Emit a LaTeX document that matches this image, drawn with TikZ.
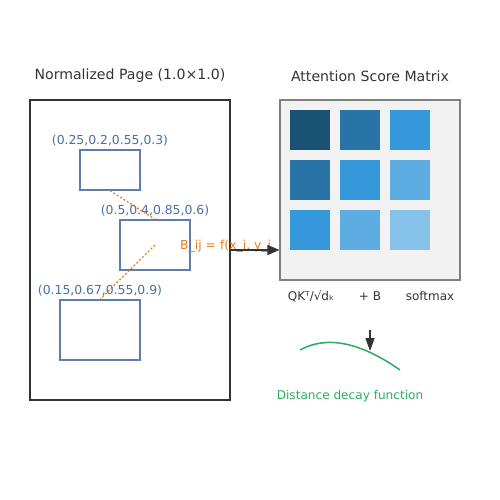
\documentclass[tikz,border=0pt]{standalone}
\usepackage{fontspec}
\setmainfont{DejaVu Sans}
\usetikzlibrary{arrows.meta}
\definecolor{boxblue}{HTML}{4A6FA5}
\definecolor{dorange}{HTML}{E67E22}
\definecolor{dgreen}{HTML}{27AE60}
\definecolor{dark}{HTML}{333333}
\definecolor{cA}{HTML}{1A5276}
\definecolor{cB}{HTML}{2874A6}
\definecolor{cC}{HTML}{3498DB}
\definecolor{cD}{HTML}{5DADE2}
\definecolor{cE}{HTML}{85C1E9}
\tikzset{
  bbox/.style={draw=boxblue!90, line width=1.3pt, inner sep=0pt},
  blab/.style={text=boxblue, font=\fontsize{12.4}{14}\selectfont, inner sep=0pt},
  ttl/.style={text=dark, font=\fontsize{14.1}{16}\selectfont, inner sep=0pt},
  opl/.style={text=dark, font=\fontsize{12}{14}\selectfont, inner sep=0pt},
  cell/.style={minimum width=40pt, minimum height=40pt, inner sep=0pt, draw=none},
  dotl/.style={draw=dorange, line width=1.2pt, dash pattern=on 2pt off 2pt},
  arr/.style={draw=dark, line width=1.5pt, -{Triangle[length=12pt,width=10pt]}},
}
\begin{document}
\begin{tikzpicture}[x=1pt,y=-1pt]
\useasboundingbox (0,0) rectangle (500,500);
% titles
\node[ttl] (t1) at (130,76) {Normalized Page (1.0×1.0)};
\node[ttl] (t2) at (370,76) {Attention Score Matrix};
% page
\draw[dark, line width=1.5pt] (30,100) rectangle (230,400);
\coordinate (pageR) at (230,250);
% boxes
\node[bbox, minimum width=60pt, minimum height=40pt] (b1) at (110,170) {};
\node[bbox, minimum width=70pt, minimum height=50pt] (b2) at (155,245) {};
\node[bbox, minimum width=80pt, minimum height=60pt] (b3) at (100,330) {};
\node[blab] (l1) at (110,141) {(0.25,0.2,0.55,0.3)};
\node[blab] (l2) at (155,211) {(0.5,0.4,0.85,0.6)};
\node[blab] (l3) at (100,291) {(0.15,0.67,0.55,0.9)};
% dotted links
\draw[dotl] (b1.south) -- (b2.north);
\draw[dotl] (b2.center) -- (b3.north);
% formula (partly covered by matrix)
\node[text=dorange, font=\fontsize{12.4}{14}\selectfont, anchor=west, inner sep=0pt] (fm) at (180,246) {B\_ij = f(x\_i, y\_i, x\_j, y\_j)};
% matrix
\node[draw=black!50, fill=black!5, line width=1.2pt, minimum width=180pt, minimum height=180pt, inner sep=0pt] (mat) at (370,190) {};
\draw[arr] (pageR) -- (mat.west |- pageR);
\node[cell, fill=cA] (c11) at (310,130) {};
\node[cell, fill=cB] (c12) at (360,130) {};
\node[cell, fill=cC] (c13) at (410,130) {};
\node[cell, fill=cB] (c21) at (310,180) {};
\node[cell, fill=cC] (c22) at (360,180) {};
\node[cell, fill=cD] (c23) at (410,180) {};
\node[cell, fill=cC] (c31) at (310,230) {};
\node[cell, fill=cD] (c32) at (360,230) {};
\node[cell, fill=cE] (c33) at (410,230) {};
% operation labels
\node[opl] (o1) at (311,296) {QKᵀ/√dₖ};
\node[opl] (o2) at (370,296) {+ B};
\node[opl] (o3) at (430,296) {softmax};
% decay
\coordinate (dtop) at (370,330);
\coordinate (dbot) at (370,351);
\draw[dgreen, line width=1.5pt] (300,350) .. controls (326.7,335.3) and (360,342) .. (400,370);
\draw[arr, -{Triangle[length=13pt,width=9pt]}] (dtop) -- (dbot);
\node[text=dgreen, font=\fontsize{12.1}{14}\selectfont, inner sep=0pt] (dl) at (350,396) {Distance decay function};
\end{tikzpicture}
\end{document}
